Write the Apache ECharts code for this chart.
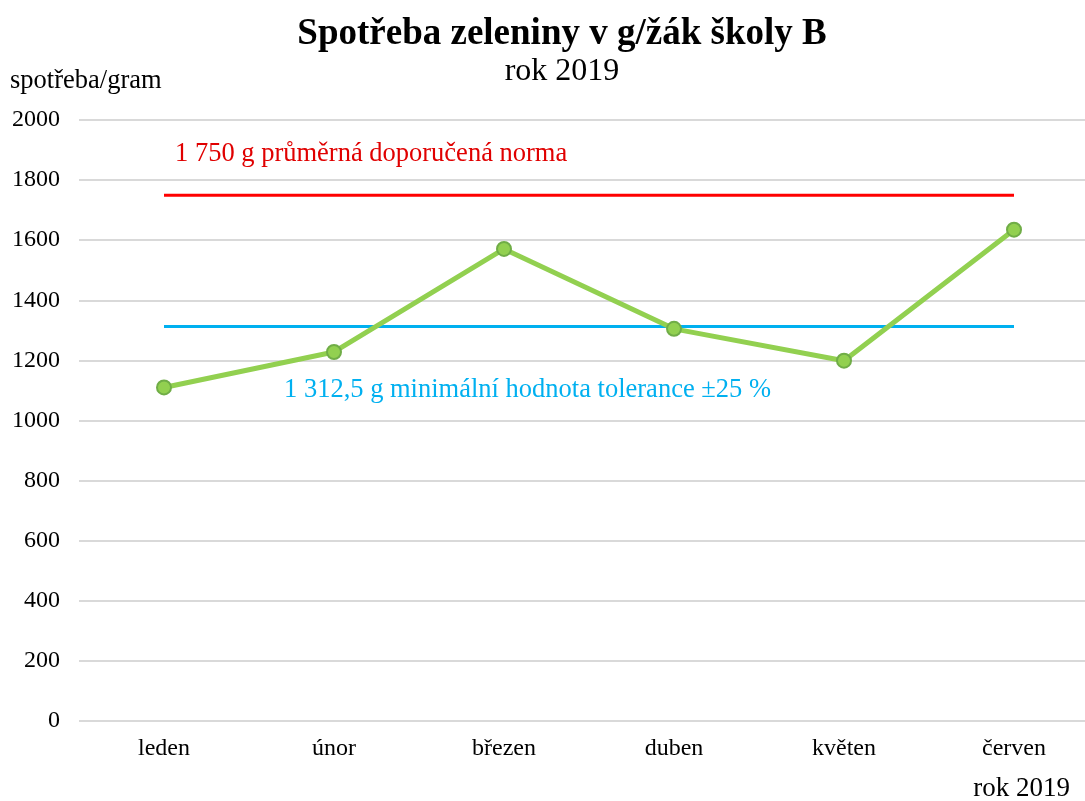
<!DOCTYPE html>
<html>
<head>
<meta charset="utf-8">
<script src="https://cdn.jsdelivr.net/npm/echarts@6/dist/echarts.min.js"></script>
<style>
  html, body { margin: 0; padding: 0; background: #fff; }
  #chart { width: 1085px; height: 801px; }
</style>
</head>
<body>
<div id="chart"></div>
<script>
// data
const months = ['leden', 'únor', 'březen', 'duben', 'květen', 'červen']
const consumption = [1110, 1228, 1571, 1305, 1199, 1635]
const normRecommended = [1750, 1750, 1750, 1750, 1750, 1750]
const normMinimum = [1312.5, 1312.5, 1312.5, 1312.5, 1312.5, 1312.5]

const font = '"Liberation Serif", "Times New Roman", serif'

function label(text, x, y, size, color, align, weight) {
  return {
    type: 'text',
    x: x,
    y: y,
    style: {
      text: text,
      fill: color,
      font: (weight || 'normal') + ' ' + size + 'px ' + font,
      textAlign: align,
      textVerticalAlign: 'middle'
    }
  }
}

const chart = echarts.init(document.getElementById('chart'))
chart.setOption({
  animation: false,
  textStyle: { fontFamily: font },
  graphic: [
    label('Spotřeba zeleniny v g/žák školy B', 562, 34, 37, '#000', 'center', 'bold'),
    label('rok 2019', 562, 72, 32, '#000', 'center'),
    label('spotřeba/gram', 10, 81, 26.5, '#000', 'left'),
    label('rok 2019', 1070, 789, 27, '#000', 'right'),
    label('1 750 g průměrná doporučená norma', 175, 154, 26.5, '#E00000', 'left'),
    label('1 312,5 g minimální hodnota tolerance ±25 %', 284, 390, 26.5, '#00B0F0', 'left')
  ],
  grid: {
    left: 79,
    top: 120,
    width: 1020,
    height: 601,
    outerBoundsMode: 'none'
  },
  xAxis: {
    type: 'category',
    data: months,
    boundaryGap: true,
    axisLine: { show: false },
    axisTick: { show: false },
    axisLabel: { color: '#000', fontSize: 24, fontFamily: font, margin: 16 }
  },
  yAxis: {
    type: 'value',
    min: 0,
    max: 2000,
    interval: 200,
    axisLine: { show: false },
    axisTick: { show: false },
    axisLabel: { color: '#000', fontSize: 24, fontFamily: font, margin: 19, formatter: v => String(v) },
    splitLine: { lineStyle: { color: '#D9D9D9', width: 2 } }
  },
  series: [{
    name: 'norma',
    type: 'line',
    data: normRecommended,
    symbol: 'none',
    lineStyle: { color: '#FF0000', width: 3 }
  }, {
    name: 'tolerance',
    type: 'line',
    data: normMinimum,
    symbol: 'none',
    lineStyle: { color: '#00B0F0', width: 3 }
  }, {
    name: 'spotřeba',
    type: 'line',
    data: consumption,
    symbol: 'circle',
    symbolSize: 14,
    lineStyle: { color: '#92D050', width: 5 },
    itemStyle: { color: '#92D050', borderColor: '#70AD47', borderWidth: 2 }
  }]
})
</script>
</body>
</html>
